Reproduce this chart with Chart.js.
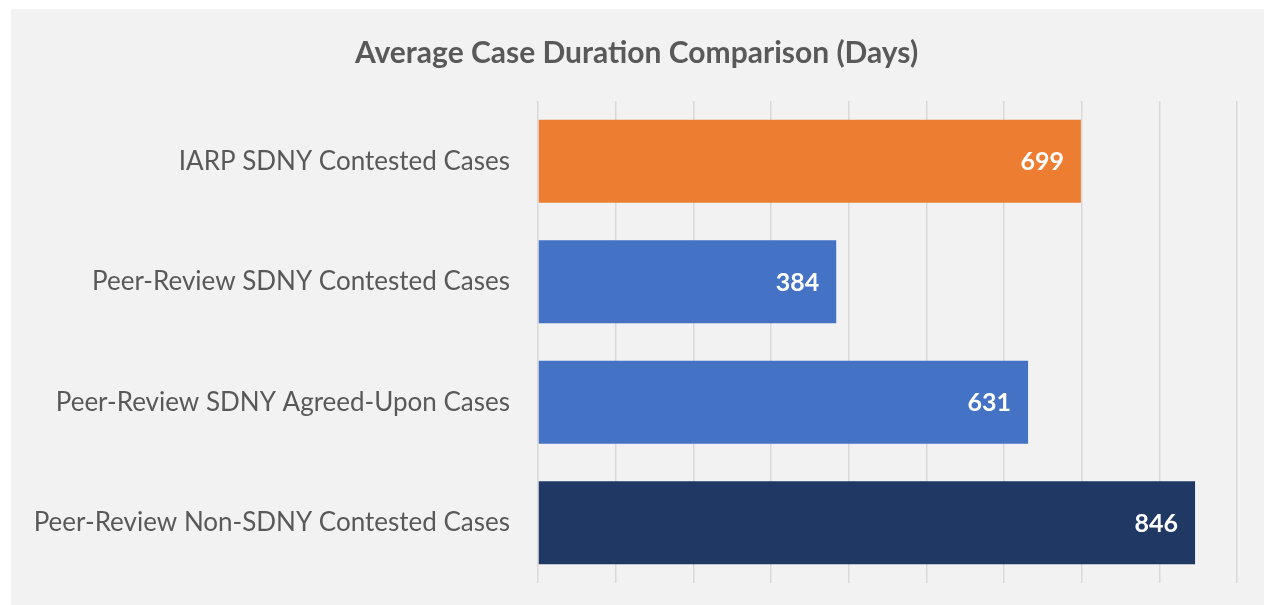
<!DOCTYPE html>
<html>
<head>
<meta charset="utf-8">
<script src="https://cdn.jsdelivr.net/npm/chart.js@4.4.1/dist/chart.umd.min.js"></script>
<style>
  html, body { margin: 0; padding: 0; background: #ffffff; }
  #wrap {
    position: absolute;
    left: 11px; top: 9px;
    width: 1253px; height: 596px;
    background: #f2f2f2;
  }
</style>
</head>
<body>
<div id="wrap"><canvas id="chart"></canvas></div>
<script>
// ── data ─────────────────────────────────────────────────────────────────────
const categories = [
  "IARP SDNY Contested Cases",
  "Peer-Review SDNY Contested Cases",
  "Peer-Review SDNY Agreed-Upon Cases",
  "Peer-Review Non-SDNY Contested Cases"
]
const durations = [699, 384, 631, 846]
const barColors = ["#ed7d31", "#4472c4", "#4472c4", "#203864"]
const axisMin = 0
const axisMax = 900
const axisStep = 100

const FONT = "Lato, 'Open Sans', sans-serif"

// white value labels inside the bar ends
const valueLabels = {
  id: "valueLabels",
  afterDatasetsDraw(chart) {
    const ctx = chart.ctx
    const meta = chart.getDatasetMeta(0)
    ctx.save()
    ctx.fillStyle = "#ffffff"
    ctx.font = "bold 25px " + FONT
    ctx.textAlign = "right"
    ctx.textBaseline = "middle"
    meta.data.forEach((bar, i) => {
      ctx.fillText(String(durations[i]), bar.x - 17, bar.y + 1)
    })
    ctx.restore()
  }
}

new Chart(document.getElementById("chart"), {
  type: "bar",
  data: {
    labels: categories,
    datasets: [{
      data: durations,
      backgroundColor: barColors,
      borderWidth: 0,
      categoryPercentage: 1,
      barPercentage: 0.69
    }]
  },
  options: {
    indexAxis: "y",
    responsive: true,
    maintainAspectRatio: false,
    animation: false,
    layout: { padding: { left: 25, right: 27, top: 0, bottom: 22 } },
    plugins: {
      legend: { display: false },
      tooltip: { enabled: false },
      title: {
        display: true,
        text: "Average Case Duration Comparison (Days)",
        color: "#595959",
        font: { family: FONT, size: 30, weight: "bold" },
        padding: { top: 26, bottom: 30 }
      }
    },
    scales: {
      x: {
        min: axisMin,
        max: axisMax,
        ticks: { display: false, stepSize: axisStep },
        border: { display: false },
        grid: { color: "#d9d9d9", lineWidth: 1.5, drawTicks: false },
        afterFit(scale) { scale.height = 0 }
      },
      y: {
        grid: { display: false },
        border: { display: false },
        ticks: {
          color: "#595959",
          padding: 20,
          font: { family: FONT, size: 26 }
        },
        afterFit(scale) {
          scale.width = 502
          scale.paddingTop = 0
          scale.paddingBottom = 0
        }
      }
    }
  },
  plugins: [valueLabels]
})
</script>
</body>
</html>
